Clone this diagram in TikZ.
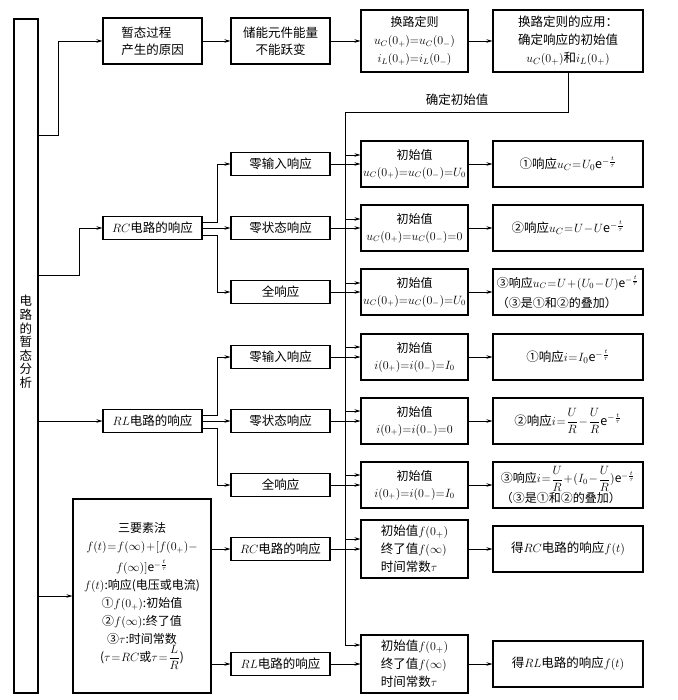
\documentclass[tikz,border=0pt]{standalone}
\usepackage{amsmath}
\usepackage{fontspec}
\setmainfont{Noto Sans CJK SC}
\usetikzlibrary{arrows.meta}
\newcommand\mytight{\thickmuskip=0mu\relax}
\begin{document}
\thickmuskip=1mu\relax
\medmuskip=1mu\relax
\begin{tikzpicture}[x=1pt,y=-1pt,
  every node/.style={inner sep=1pt,font=\fontsize{12.5}{15}\selectfont},
  box/.style={draw,line width=1.1pt,align=center},
  sbox/.style={box,minimum width=99,minimum height=23},
  ibox/.style={box,minimum width=107,minimum height=46,font=\fontsize{12}{17}\selectfont\mytight},
  rbox/.style={box,minimum width=150,minimum height=46},
  arr/.style={line width=0.6pt,-{Stealth[length=6pt,width=3.5pt]}},
  ln/.style={line width=0.6pt}]
\useasboundingbox (0,0) rectangle (677,700);
% main
\node[draw,line width=1.1pt,minimum width=24,minimum height=674] (main) at (26,356) {};
\node[align=center,font=\fontsize{12.5}{13.6}\selectfont] (mainlbl) at (26,342) {电\\路\\的\\暂\\态\\分\\析};
% top row
\node[box,minimum width=99,minimum height=46,align=left,font=\fontsize{12.5}{17}\selectfont] (cause) at (152.5,41) {暂态过程\\产生的原因};
\node[box,minimum width=99,minimum height=46,font=\fontsize{12.5}{17}\selectfont] (store) at (280.5,41) {储能元件能量\\不能跃变};
\node[box,minimum width=107,minimum height=62,font=\fontsize{12}{18}\selectfont\mytight] (law) at (414.5,41) {换路定则\\$u_C(0_+)=u_C(0_-)$\\$i_L(0_+)=i_L(0_-)$};
\node[box,minimum width=150,minimum height=62,font=\fontsize{12.5}{18}\selectfont] (app) at (568,41) {换路定则的应用：\\确定响应的初始值\\$u_C(0_+)$和$i_L(0_+)$};
\draw[arr] (main.east |- 0,135) -- ++(20,0) |- (cause.west);
\draw[arr] (cause) -- (store);
\draw[arr] (store) -- (law);
\draw[arr] (law) -- (app);
% RC
\node[sbox] (rc) at (152.5,228) {$RC$电路的响应};
\node[sbox] (rc1) at (280.5,164) {零输入响应};
\node[sbox] (rc2) at (280.5,228) {零状态响应};
\node[sbox] (rc3) at (280.5,292) {全响应};
\node[ibox] (rcI1) at (414.5,164) {初始值\\$u_C(0_+)=u_C(0_-)=U_0$};
\node[ibox] (rcI2) at (414.5,228) {初始值\\$u_C(0_+)=u_C(0_-)=0$};
\node[ibox] (rcI3) at (414.5,292) {初始值\\$u_C(0_+)=u_C(0_-)=U_0$};
\node[rbox] (rcR1) at (568,164) {①响应$u_C=U_0\mathrm{e}^{-\frac{t}{\tau}}$};
\node[rbox] (rcR2) at (568,228) {②响应$u_C=U-U\mathrm{e}^{-\frac{t}{\tau}}$};
\node[rbox,align=left,font=\fontsize{12}{20}\selectfont] (rcR3) at (568,292) {③响应$u_C=U+(U_0-U)\mathrm{e}^{-\frac{t}{\tau}}$\\（③是①和②的叠加）};
\draw[arr] (main.east |- 0,275) -- ++(41,0) |- (rc.west);
\draw[arr] ([yshift=6pt]rc.east) -- ++(15,0) |- (rc1.west);
\draw[arr] (rc) -- (rc2);
\draw[arr] ([yshift=-7pt]rc.east) -- ++(15,0) |- (rc3.west);
\foreach \a/\b/\c in {rc1/rcI1/rcR1,rc2/rcI2/rcR2,rc3/rcI3/rcR3}{
  \draw[arr] (\a) -- (\b);
  \draw[arr] (\b) -- (\c);
}
% RL
\node[sbox] (rl) at (152.5,421) {$RL$电路的响应};
\node[sbox] (rl1) at (280.5,357) {零输入响应};
\node[sbox] (rl2) at (280.5,421) {零状态响应};
\node[sbox] (rl3) at (280.5,485) {全响应};
\node[ibox] (rlI1) at (414.5,357) {初始值\\$i(0_+)=i(0_-)=I_0$};
\node[ibox] (rlI2) at (414.5,421) {初始值\\$i(0_+)=i(0_-)=0$};
\node[ibox] (rlI3) at (414.5,485) {初始值\\$i(0_+)=i(0_-)=I_0$};
\node[rbox] (rlR1) at (568,357) {①响应$i=I_0\mathrm{e}^{-\frac{t}{\tau}}$};
\node[rbox] (rlR2) at (568,421) {②响应$i=\dfrac{U}{R}-\dfrac{U}{R}\mathrm{e}^{-\frac{t}{\tau}}$};
\node[rbox,align=left,font=\fontsize{12}{17}\selectfont] (rlR3) at (568,485) {③响应$i=\dfrac{U}{R}+(I_0-\dfrac{U}{R})\mathrm{e}^{-\frac{t}{\tau}}$\\（③是①和②的叠加）};
\draw[arr] (main.east |- rl) -- (rl.west);
\draw[arr] ([yshift=6pt]rl.east) -- ++(15,0) |- (rl1.west);
\draw[arr] (rl) -- (rl2);
\draw[arr] ([yshift=-7pt]rl.east) -- ++(15,0) |- (rl3.west);
\foreach \a/\b/\c in {rl1/rlI1/rlR1,rl2/rlI2/rlR2,rl3/rlI3/rlR3}{
  \draw[arr] (\a) -- (\b);
  \draw[arr] (\b) -- (\c);
}
% three-element method
\node[box,minimum width=138,minimum height=194,font=\fontsize{12}{18}\selectfont] (three) at (142,596) {三要素法\\$f(t)=f(\infty)+[f(0_+)-$\\[3pt]$f(\infty)]\mathrm{e}^{-\frac{t}{\tau}}$\\$f(t)$:响应(电压或电流)\\①$f(0_+)$:初始值\\②$f(\infty)$:终了值\\③$\tau$:时间常数\\($\tau=RC$或$\tau=\dfrac{L}{R}$)};
\node[sbox] (trc) at (280.5,549) {$RC$电路的响应};
\node[sbox] (trl) at (280.5,664) {$RL$电路的响应};
\node[box,minimum width=107,minimum height=58,align=left,font=\fontsize{12.5}{18}\selectfont] (fI1) at (414.5,549) {初始值$f(0_+)$\\终了值$f(\infty)$\\时间常数$\tau$};
\node[box,minimum width=107,minimum height=58,align=left,font=\fontsize{12.5}{18}\selectfont] (fI2) at (414.5,664) {初始值$f(0_+)$\\终了值$f(\infty)$\\时间常数$\tau$};
\node[rbox] (fR1) at (568,549) {得$RC$电路的响应$f(t)$};
\node[rbox] (fR2) at (568,664) {得$RL$电路的响应$f(t)$};
\draw[arr] (main.east |- three) -- (three.west);
\draw[arr] (three.east |- trc) -- (trc.west);
\draw[arr] (three.east |- trl) -- (trl.west);
\draw[arr] (trc) -- (fI1);
\draw[arr] (fI1) -- (fR1);
\draw[arr] (trl) -- (fI2);
\draw[arr] (fI2) -- (fR2);
% initial-value bus
\draw[arr] (app.south) -- (app.south |- 0,112) -- (345,112) -- (345,645) -- (fI2.west |- 0,645);
\node (lbl) at (457,100) {确定初始值};
\foreach \yy in {155,219,283,347,411,475,539}
  \draw[arr] (345,\yy) -- (rcI1.west |- 0,\yy);
\end{tikzpicture}
\end{document}
